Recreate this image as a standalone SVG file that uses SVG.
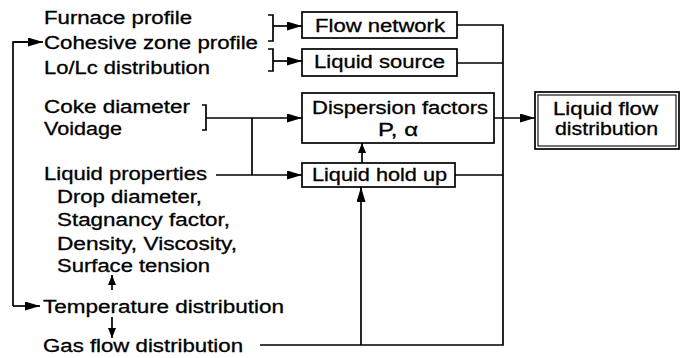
<svg xmlns="http://www.w3.org/2000/svg" width="691" height="358" viewBox="0 0 691 358">
<style>
  text { font-family: "Liberation Sans", Arial, Helvetica, sans-serif; font-size: 18px; fill: #000; stroke: #000; stroke-width: 0.3; }
  .box { fill: #fff; stroke: #000; stroke-width: 1.7; }
  .thin { fill: none; stroke: #000; stroke-width: 1.1; }
  .ln { fill: none; stroke: #000; stroke-width: 1.7; }
  .arr { marker-end: url(#ah); }
  .sarr { marker-end: url(#ahs); }
</style>
<defs>
  <marker id="ah" markerUnits="userSpaceOnUse" markerWidth="15" markerHeight="10" refX="15" refY="4.5" orient="auto">
    <path d="M0,0 L15,4.5 L0,9 z" fill="#000"/>
  </marker>
  <marker id="ahs" markerUnits="userSpaceOnUse" markerWidth="11" markerHeight="9" refX="10" refY="4" orient="auto">
    <path d="M0,0 L10,4 L0,8 z" fill="#000"/>
  </marker>
</defs>
<rect width="691" height="358" fill="#fff"/>

<g id="connectors">
  <path class="ln" d="M268,15 H273 V41 H268"/>
  <path class="ln" d="M268,49 H273 V71 H268"/>
  <path class="ln" d="M202,105 H206 V130 H202"/>
  <line class="ln arr" x1="273" y1="26" x2="302" y2="26"/>
  <line class="ln arr" x1="273" y1="61" x2="302" y2="61"/>
  <line class="ln arr" x1="206" y1="118" x2="302" y2="118"/>
  <line class="ln" x1="252" y1="118" x2="252" y2="175"/>
  <line class="ln arr" x1="216" y1="175" x2="302" y2="175"/>
  <line class="ln sarr" x1="362" y1="163" x2="362" y2="143"/>
  <path class="ln" d="M260,345 H503 V25 H457"/>
  <line class="ln arr" x1="361" y1="345" x2="361" y2="187"/>
  <line class="ln" x1="457" y1="63" x2="503" y2="63"/>
  <line class="ln" x1="455" y1="175" x2="503" y2="175"/>
  <line class="ln arr" x1="494" y1="118" x2="535" y2="118"/>
  <path class="ln" d="M13,306 V42 H27"/>
  <line class="ln arr" x1="13" y1="42" x2="43" y2="42"/>
  <line class="ln arr" x1="13" y1="306" x2="40" y2="306"/>
  <line class="ln sarr" x1="112" y1="290" x2="112" y2="275"/>
  <line class="ln sarr" x1="112" y1="317" x2="112" y2="338"/>
</g>

<g id="furnace-profile"><text transform="translate(44,24) scale(1.25,1)" textLength="118.4" lengthAdjust="spacingAndGlyphs">Furnace profile</text></g>
<g id="cohesive-zone-profile"><text transform="translate(44,49) scale(1.25,1)" textLength="171.2" lengthAdjust="spacingAndGlyphs">Cohesive zone profile</text></g>
<g id="lo-lc-distribution"><text transform="translate(44,74) scale(1.25,1)" textLength="132.8" lengthAdjust="spacingAndGlyphs">Lo/Lc distribution</text></g>
<g id="coke-diameter"><text transform="translate(44,113) scale(1.25,1)" textLength="116.8" lengthAdjust="spacingAndGlyphs">Coke diameter</text></g>
<g id="voidage"><text transform="translate(44,135) scale(1.25,1)" textLength="62.4" lengthAdjust="spacingAndGlyphs">Voidage</text></g>
<g id="liquid-properties">
  <text transform="translate(44,180) scale(1.25,1)" textLength="130.4" lengthAdjust="spacingAndGlyphs">Liquid properties</text>
  <text transform="translate(57,203) scale(1.25,1)" textLength="116" lengthAdjust="spacingAndGlyphs">Drop diameter,</text>
  <text transform="translate(57,226) scale(1.25,1)" textLength="138.4" lengthAdjust="spacingAndGlyphs">Stagnancy factor,</text>
  <text transform="translate(57,250) scale(1.25,1)" textLength="144" lengthAdjust="spacingAndGlyphs">Density, Viscosity,</text>
  <text transform="translate(57,272) scale(1.25,1)" textLength="122.4" lengthAdjust="spacingAndGlyphs">Surface tension</text>
</g>
<g id="temperature-distribution"><text transform="translate(43,313) scale(1.25,1)" textLength="192.8" lengthAdjust="spacingAndGlyphs">Temperature distribution</text></g>
<g id="gas-flow-distribution"><text transform="translate(43,352) scale(1.25,1)" textLength="160" lengthAdjust="spacingAndGlyphs">Gas flow distribution</text></g>

<g id="flow-network">
  <rect class="box" x="302" y="12" width="155" height="26"/>
  <text transform="translate(315,32) scale(1.25,1)" textLength="104" lengthAdjust="spacingAndGlyphs">Flow network</text>
</g>
<g id="liquid-source">
  <rect class="box" x="302" y="49" width="155" height="27"/>
  <text transform="translate(314,68) scale(1.25,1)" textLength="104.8" lengthAdjust="spacingAndGlyphs">Liquid source</text>
</g>
<g id="dispersion-factors">
  <rect class="box" x="302" y="93" width="192" height="50"/>
  <text transform="translate(312,114) scale(1.25,1)" textLength="140.8" lengthAdjust="spacingAndGlyphs">Dispersion factors</text>
  <text transform="translate(378,136) scale(1.25,1)" textLength="32" lengthAdjust="spacingAndGlyphs">P, α</text>
</g>
<g id="liquid-hold-up">
  <rect class="box" x="302" y="163" width="153" height="24"/>
  <text transform="translate(312,181) scale(1.25,1)" textLength="108" lengthAdjust="spacingAndGlyphs">Liquid hold up</text>
</g>
<g id="liquid-flow-distribution">
  <rect class="box" x="535" y="92" width="144" height="57"/>
  <rect class="thin" x="538" y="95" width="138" height="51"/>
  <text transform="translate(553,115) scale(1.25,1)" textLength="84" lengthAdjust="spacingAndGlyphs">Liquid flow</text>
  <text transform="translate(555,135) scale(1.25,1)" textLength="82.4" lengthAdjust="spacingAndGlyphs">distribution</text>
</g>
</svg>
